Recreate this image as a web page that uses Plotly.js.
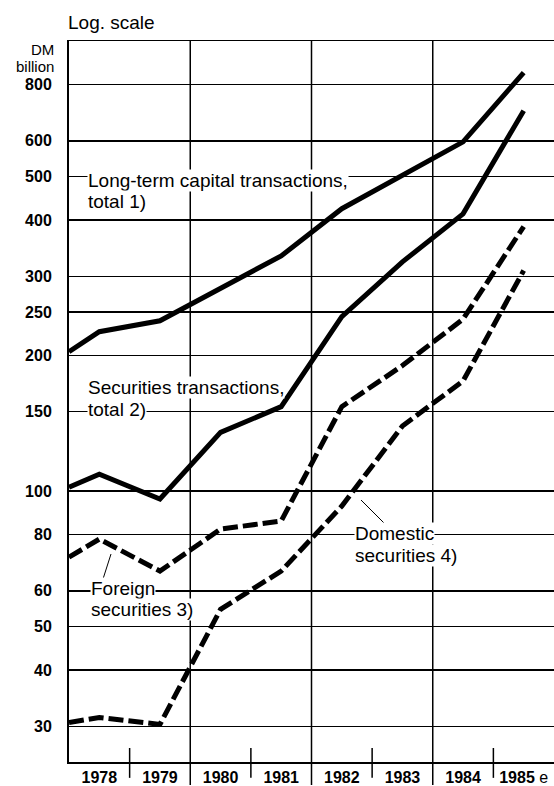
<!DOCTYPE html>
<html>
<head>
<meta charset="utf-8">
<script src="https://cdn.plot.ly/plotly-3.0.1.min.js"></script>
<style>
  html, body { margin: 0; padding: 0; background: #fff; }
  #chart { width: 554px; height: 786px; }
</style>
</head>
<body>
<div id="chart"></div>
<script>
// x positions: start of 1978 (left edge), then yearly values plotted mid-year
const xPoints = [1977.5, 1978, 1979, 1980, 1981, 1982, 1983, 1984, 1985];
const yearTicks = [1978, 1979, 1980, 1981, 1982, 1983, 1984, 1985];
const yearLabels = ['1978', '1979', '1980', '1981', '1982', '1983', '1984', '1985'];
const yearSuffix = ['', '', '', '', '', '', '', ' e'];

// DM billion
const longTermTotal = [204, 226, 239, 282, 333, 424, 503, 597, 851];
const securitiesTotal = [102, 109, 96, 135, 154, 244, 323, 413, 700];
const foreignSecurities = [71.3, 78.2, 66.4, 82.3, 85.8, 154, 190, 241, 387];
const domesticSecurities = [30.6, 31.4, 30.3, 54.6, 66.4, 92.6, 139.5, 175.6, 309];

const yTickVals = [30, 40, 50, 60, 80, 100, 150, 200, 250, 300, 400, 500, 600, 800];
const yTickText = ['30', '40', '50', '60', '80', '100', '150', '200', '250', '300', '400', '500', '600', '800'];

const majorDividers = [1979.5, 1981.5, 1983.5];
const minorDividers = [1978.5, 1980.5, 1982.5, 1984.5];

const FONT = 'Liberation Sans, Arial, Helvetica, sans-serif';

function lineTrace(y, dash) {
  return {
    x: xPoints, y: y, type: 'scatter', mode: 'lines',
    line: { color: '#000', width: 5, dash: dash, shape: 'linear' },
    hoverinfo: 'skip', showlegend: false, cliponaxis: true
  };
}

const data = [
  lineTrace(longTermTotal, 'solid'),
  lineTrace(securitiesTotal, 'solid'),
  lineTrace(foreignSecurities, '15px,5px'),
  lineTrace(domesticSecurities, '15px,5px')
];

const shapes = [];
majorDividers.forEach(v => shapes.push({
  type: 'line', xref: 'x', yref: 'paper', x0: v, x1: v, y0: -0.032, y1: 1,
  line: { color: '#000', width: 1.5 }, layer: 'below'
}));
minorDividers.forEach(v => shapes.push({
  type: 'line', xref: 'x', yref: 'paper', x0: v, x1: v, y0: -0.022, y1: 0.0194,
  line: { color: '#000', width: 1.5 }, layer: 'below'
}));
// leader lines
shapes.push({ type: 'line', xref: 'paper', yref: 'paper',
  x0: (103 - 69) / 485, y0: (762 - 579) / 721, x1: (111 - 69) / 485, y1: (762 - 554) / 721,
  line: { color: '#000', width: 1 } });
shapes.push({ type: 'line', xref: 'paper', yref: 'paper',
  x0: (361 - 69) / 485, y0: (762 - 500) / 721, x1: (384 - 69) / 485, y1: (762 - 523) / 721,
  line: { color: '#000', width: 1 } });

function px(x) { return (x - 69) / 485; }
function py(y) { return (762 - y) / 721; }

function label(text, x, y) {
  return {
    text: text, xref: 'paper', yref: 'paper', x: px(x), y: py(y),
    xanchor: 'left', yanchor: 'middle', showarrow: false, align: 'left',
    bgcolor: '#fff', borderpad: 0,
    font: { family: FONT, size: 19, color: '#000' }
  };
}

const annotations = [
  label('Long-term capital transactions,', 87, 180),
  label('total 1)', 87, 201),
  label('Securities transactions,', 87, 387),
  label('total 2)', 87, 409),
  label('Foreign', 90, 588),
  label('securities 3)', 90, 609),
  label('Domestic', 354, 533),
  label('securities 4)', 354, 555),
  { text: 'Log. scale', xref: 'paper', yref: 'paper', x: px(66), y: py(22),
    xanchor: 'left', yanchor: 'middle', showarrow: false,
    font: { family: FONT, size: 19, color: '#000' } },
  { text: 'DM', xref: 'paper', yref: 'paper', x: px(56), y: py(49),
    xanchor: 'right', yanchor: 'middle', showarrow: false,
    font: { family: FONT, size: 15, color: '#000' } },
  { text: 'billion', xref: 'paper', yref: 'paper', x: px(56), y: py(67),
    xanchor: 'right', yanchor: 'middle', showarrow: false,
    font: { family: FONT, size: 15, color: '#000' } }
];

const layout = {
  width: 554, height: 786,
  margin: { l: 69, r: 0, t: 41, b: 24, pad: 0 },
  paper_bgcolor: '#fff', plot_bgcolor: '#fff',
  showlegend: false,
  font: { family: FONT, color: '#000' },
  xaxis: {
    range: [1977.5, 1985.5], type: 'linear',
    tickvals: yearTicks,
    ticktext: yearLabels.map((t, i) => '<b>' + t + '</b>' + yearSuffix[i]),
    tickfont: { family: FONT, size: 16, color: '#000' },
    ticks: '', showgrid: false, zeroline: false,
    showline: true, mirror: true, linecolor: '#000', linewidth: 1.5,
    ticklabelstandoff: 0, fixedrange: true
  },
  yaxis: {
    type: 'log', range: [Math.log10(25), 3],
    tickvals: yTickVals, ticktext: yTickText,
    tickfont: { family: FONT, size: 16, color: '#000', weight: 'bold' },
    ticks: '', showgrid: true, gridcolor: '#000', gridwidth: 1.4,
    zeroline: false, showline: true, linecolor: '#000', linewidth: 2,
    ticklabelstandoff: 12, fixedrange: true
  },
  shapes: shapes,
  annotations: annotations
};

Plotly.newPlot('chart', data, layout, { staticPlot: true, displayModeBar: false });
</script>
</body>
</html>
